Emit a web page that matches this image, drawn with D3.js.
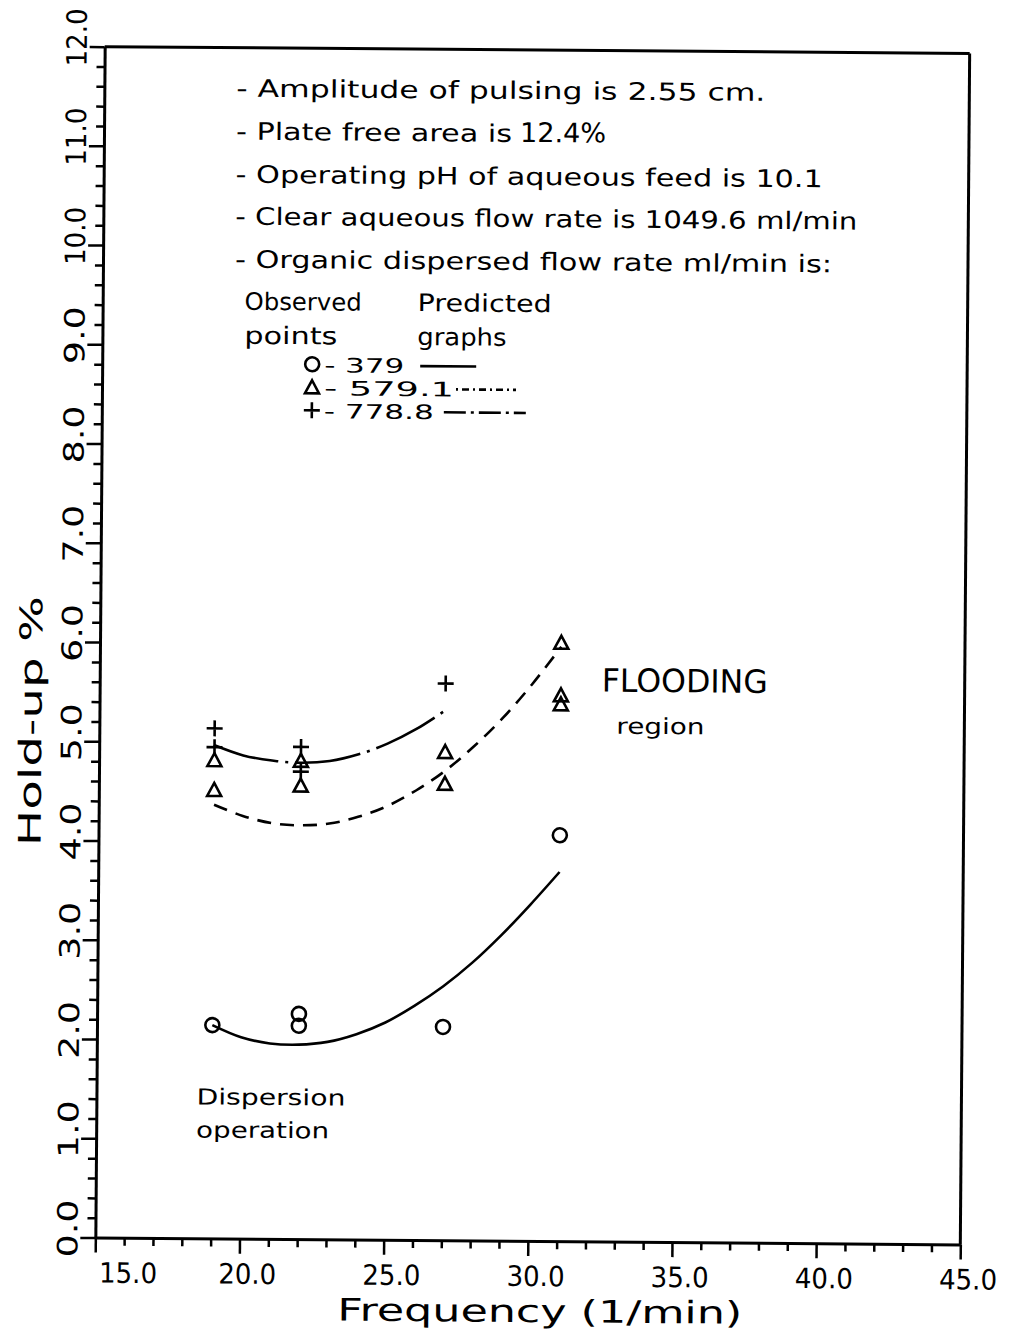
<!DOCTYPE html>
<html>
<head>
<meta charset="utf-8">
<script src="https://cdn.jsdelivr.net/npm/d3@7"></script>
<style>
  html, body { margin: 0; padding: 0; background: #fff; }
  svg { display: block; }
  text { font-family: "DejaVu Sans", sans-serif; fill: #000; }
</style>
</head>
<body>
<svg id="chart" width="1018" height="1340"></svg>
<script>
// Observed hold-up points, one pair of arrays per organic flow rate
const freqObs379 = [19, 22, 22, 27, 31];
const holdObs379 = [2.15, 2.27, 2.15, 2.15, 4.09];
const freqObs579 = [19, 19, 22, 22, 27, 27, 31, 31, 31];
const holdObs579 = [4.82, 4.52, 4.82, 4.57, 4.92, 4.60, 6.03, 5.50, 5.41];
const freqObs778 = [19, 19, 22, 22, 27];
const holdObs778 = [5.14, 4.95, 4.96, 4.71, 5.61];

// Predicted curves
const freqPred = [19, 20, 21, 22, 23, 24, 25, 26, 27, 28, 29, 30, 31];
const pred379 = [2.15, 2.03, 1.97, 1.96, 1.99, 2.07, 2.19, 2.36, 2.56, 2.80, 3.08, 3.39, 3.72];
const pred579 = [4.37, 4.26, 4.19, 4.17, 4.19, 4.26, 4.37, 4.53, 4.73, 4.98, 5.27, 5.61, 5.99];
const freqPred778 = [19, 20, 21, 22, 23, 24, 25, 26, 27];
const pred778 = [4.97, 4.87, 4.82, 4.80, 4.82, 4.89, 5.00, 5.15, 5.34];

// Axis ticks and labels
const xTicks = d3.range(15, 46, 1);
const xLabels = [15, 20, 25, 30, 35, 40, 45];
const yTicks = d3.range(0, 12.001, 0.2).map(v => +v.toFixed(1));
const yLabels = [0, 1, 2, 3, 4, 5, 6, 7, 8, 9, 10, 11, 12];

// Text blocks
const noteLines = [
  "- Amplitude of pulsing is 2.55 cm.",
  "- Plate free area is",
  "- Operating pH of aqueous feed is 10.1",
  "- Clear aqueous flow rate is 1049.6 ml/min",
  "- Organic dispersed flow rate ml/min is:"
];
const freeArea = "12.4%";
const legendRates = ["- 379", "- 579.1", "- 778.8"];

const svg = d3.select("#chart");
// the whole sheet sits at a slight tilt
const g = svg.append("g").attr("transform", "rotate(0.45, 532, 645)");

const x = d3.scaleLinear().domain([15, 45]).range([100, 965]);
const y = d3.scaleLinear().domain([0, 12]).range([1241, 50]);

const LW = 3;

// Frame: top and right
g.append("line").attr("x1", x(15)).attr("x2", x(45)).attr("y1", y(12)).attr("y2", y(12))
  .attr("stroke", "#000").attr("stroke-width", LW);
g.append("line").attr("x1", x(45)).attr("x2", x(45)).attr("y1", y(12)).attr("y2", y(0))
  .attr("stroke", "#000").attr("stroke-width", LW);

// Bottom axis
const xAxis = g.append("g").attr("transform", `translate(0,${y(0)})`)
  .call(d3.axisBottom(x).tickValues(xTicks).tickSizeOuter(0).tickFormat(""));
xAxis.select(".domain").attr("stroke-width", LW);
xAxis.selectAll(".tick line")
  .attr("y2", d => d % 5 === 0 ? 15 : 8)
  .attr("stroke-width", 2.5);

xAxis.selectAll(".xlab").data(xLabels).enter().append("text")
  .attr("class", "xlab")
  .attr("x", d => x(d) + (d === 15 ? 33 : 8))
  .attr("y", 45)
  .attr("text-anchor", "middle")
  .attr("font-size", 28)
  .attr("textLength", 58)
  .attr("lengthAdjust", "spacingAndGlyphs")
  .text(d => d3.format(".1f")(d));

// Left axis
const yAxis = g.append("g").attr("transform", `translate(${x(15)},0)`)
  .call(d3.axisLeft(y).tickValues(yTicks).tickSizeOuter(0).tickFormat(""));
yAxis.select(".domain").attr("stroke-width", LW);
yAxis.selectAll(".tick line")
  .attr("x2", d => Math.abs(d - Math.round(d)) < 1e-6 ? -15 : -8)
  .attr("stroke-width", 2.5);

yAxis.selectAll(".ylab").data(yLabels).enter().append("text")
  .attr("class", "ylab")
  .attr("transform", d => `translate(-18,${y(d) - 9}) rotate(-90)`)
  .attr("text-anchor", "middle")
  .attr("font-size", 28)
  .attr("textLength", 58)
  .attr("lengthAdjust", "spacingAndGlyphs")
  .text(d => d3.format(".1f")(d));

// Axis titles
g.append("text")
  .attr("x", 545).attr("y", 1322)
  .attr("text-anchor", "middle")
  .attr("font-size", 31)
  .attr("textLength", 405)
  .attr("lengthAdjust", "spacingAndGlyphs")
  .text("Frequency (1/min)");

g.append("text")
  .attr("transform", "translate(42,725) rotate(-90)")
  .attr("text-anchor", "middle")
  .attr("font-size", 31)
  .attr("textLength", 250)
  .attr("lengthAdjust", "spacingAndGlyphs")
  .text("Hold-up %");

// Predicted curves
const line = (xs, ys) => d3.line().curve(d3.curveCatmullRom)
  .x((d, i) => x(xs[i])).y(d => y(d))(ys);

g.append("path").attr("d", line(freqPred, pred379))
  .attr("fill", "none").attr("stroke", "#000").attr("stroke-width", 2.6);
g.append("path").attr("d", line(freqPred, pred579))
  .attr("fill", "none").attr("stroke", "#000").attr("stroke-width", 2.6)
  .attr("stroke-dasharray", "14,9");
g.append("path").attr("d", line(freqPred778, pred778))
  .attr("fill", "none").attr("stroke", "#000").attr("stroke-width", 2.6)
  .attr("stroke-dasharray", "66,7,3,7");

// Marker shapes
function circleMark(sel) {
  sel.append("circle").attr("r", 7).attr("fill", "none")
    .attr("stroke", "#000").attr("stroke-width", 2.6);
}
function triMark(sel) {
  sel.append("path").attr("d", "M0,-7L7,6L-7,6Z").attr("fill", "none")
    .attr("stroke", "#000").attr("stroke-width", 2.6).attr("stroke-linejoin", "miter");
}
function plusMark(sel) {
  sel.append("path").attr("d", "M-8,0H8M0,-8V8").attr("fill", "none")
    .attr("stroke", "#000").attr("stroke-width", 2.6);
}

function drawPoints(xs, ys, mark) {
  const pts = g.append("g").selectAll("g").data(ys).enter().append("g")
    .attr("transform", (d, i) => `translate(${x(xs[i])},${y(d)})`);
  mark(pts);
}
drawPoints(freqObs379, holdObs379, circleMark);
drawPoints(freqObs579, holdObs579, triMark);
drawPoints(freqObs778, holdObs778, plusMark);

// Notes
const notes = g.append("g");
const noteBase = [99, 142, 185, 227, 270];
const noteLen = [529, 276, 587, 622, 597];
noteLines.forEach((t, i) => {
  notes.append("text").attr("x", 232).attr("y", noteBase[i]).attr("font-size", 24)
    .attr("textLength", noteLen[i]).attr("lengthAdjust", "spacingAndGlyphs")
    .text(t);
});
notes.append("text").attr("x", 516).attr("y", noteBase[1]).attr("font-size", 27)
  .attr("textLength", 86).attr("lengthAdjust", "spacingAndGlyphs").text(freeArea);

notes.append("text").attr("x", 242).attr("y", 312).attr("font-size", 24)
  .attr("textLength", 117).attr("lengthAdjust", "spacingAndGlyphs").text("Observed");
notes.append("text").attr("x", 415).attr("y", 312).attr("font-size", 24)
  .attr("textLength", 134).attr("lengthAdjust", "spacingAndGlyphs").text("Predicted");
notes.append("text").attr("x", 242).attr("y", 346).attr("font-size", 24)
  .attr("textLength", 93).attr("lengthAdjust", "spacingAndGlyphs").text("points");
notes.append("text").attr("x", 415).attr("y", 346).attr("font-size", 24)
  .attr("textLength", 89).attr("lengthAdjust", "spacingAndGlyphs").text("graphs");

// Legend rows
const legendY = [366, 389, 412];
const legendMarks = [circleMark, triMark, plusMark];
const legendLen = [80, 130, 110];
const legendSample = [[418, 474, null], [454, 514, "2,4,7,4"], [442, 524, "22,5,3,5"]];
legendRates.forEach((t, i) => {
  const row = notes.append("g").attr("transform", `translate(0,${legendY[i]})`);
  const m = row.append("g").attr("transform", "translate(310,0)");
  legendMarks[i](m);
  row.append("text").attr("x", 322).attr("y", 8).attr("font-size", 20)
    .attr("textLength", legendLen[i]).attr("lengthAdjust", "spacingAndGlyphs").text(t);
  const s = legendSample[i];
  const l = row.append("line").attr("x1", s[0]).attr("x2", s[1]).attr("y1", 1).attr("y2", 1)
    .attr("stroke", "#000").attr("stroke-width", 2.6);
  if (s[2]) l.attr("stroke-dasharray", s[2]);
});

// Region annotations
g.append("text").attr("x", 602).attr("y", 691).attr("font-size", 32)
  .attr("textLength", 166).attr("lengthAdjust", "spacingAndGlyphs").text("FLOODING");
g.append("text").attr("x", 617).attr("y", 733).attr("font-size", 22)
  .attr("textLength", 88).attr("lengthAdjust", "spacingAndGlyphs").text("region");
g.append("text").attr("x", 200).attr("y", 1107).attr("font-size", 22)
  .attr("textLength", 149).attr("lengthAdjust", "spacingAndGlyphs").text("Dispersion");
g.append("text").attr("x", 200).attr("y", 1140).attr("font-size", 22)
  .attr("textLength", 133).attr("lengthAdjust", "spacingAndGlyphs").text("operation");
</script>
</body>
</html>
